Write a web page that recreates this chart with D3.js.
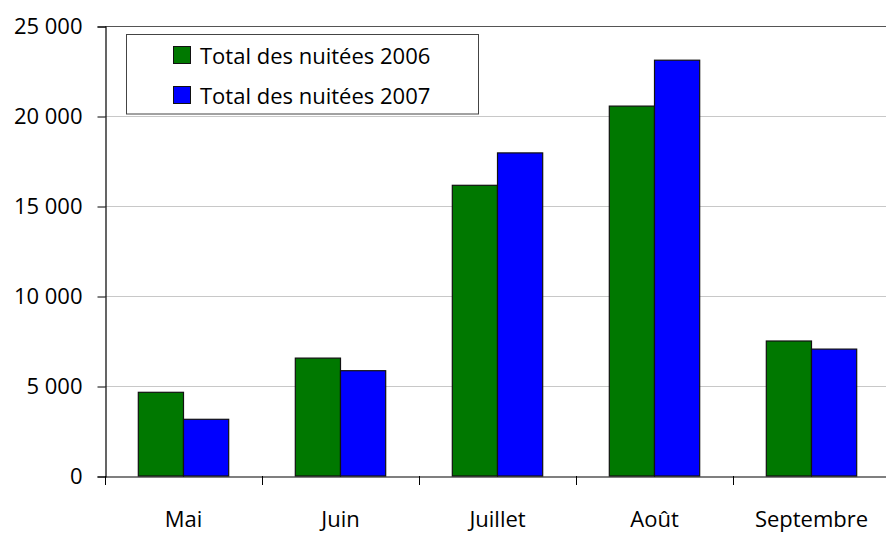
<!DOCTYPE html>
<html><head><meta charset="utf-8">
<script src="https://cdn.jsdelivr.net/npm/d3@7"></script>
<style>body{margin:0;background:#fff;} svg{display:block;font-family:"Open Sans", Lato, sans-serif;}</style>
</head><body>
<svg id="c" width="886" height="533"></svg>
<script>
const categories = ["Mai", "Juin", "Juillet", "Août", "Septembre"];
const seriesNames = ["Total des nuitées 2006", "Total des nuitées 2007"];
const values2006 = [4650, 6550, 16150, 20550, 7500];
const values2007 = [3150, 5850, 17950, 23100, 7050];
const yTicks = [0, 5000, 10000, 15000, 20000, 25000];
const colors = ["#007800", "#0000ff"];

(function () {
const svg = d3.select("#c");
const pL = 105, pR = 890, pT = 26, pB = 476;
const fs = 22;
const ff = "'Open Sans', Lato, sans-serif";

const x = d3.scaleBand().domain(categories).range([pL, pR]).padding(0);
const xs = d3.scaleBand().domain([0, 1]).range([0, x.bandwidth()]).paddingInner(0).paddingOuter(0.737);
const y = d3.scaleLinear().domain([0, 25000]).range([pB, pT]);
const fmt = d3.formatLocale({decimal: ",", thousands: " ", grouping: [3], currency: ["", ""]}).format(",");

// gridlines
svg.append("g").selectAll("line").data(yTicks.filter(d => d > 0 && d < 25000)).join("line")
  .attr("x1", pL).attr("x2", pR).attr("y1", d => y(d) + 0.5).attr("y2", d => y(d) + 0.5)
  .attr("stroke", "#c8c8c8").attr("stroke-width", 1);
// top border
svg.append("line").attr("x1", pL).attr("x2", pR).attr("y1", y(25000) + 0.5).attr("y2", y(25000) + 0.5)
  .attr("stroke", "#555").attr("stroke-width", 1);

// bars
const series = [values2006, values2007];
series.forEach((vals, si) => {
  svg.append("g").selectAll("rect").data(vals).join("rect")
    .attr("x", (d, i) => x(categories[i]) + xs(si))
    .attr("y", d => y(d))
    .attr("width", xs.bandwidth())
    .attr("height", d => y(0) - y(d))
    .attr("fill", colors[si])
    .attr("stroke", "#111").attr("stroke-width", 1.2);
});

// y axis
const yAxis = d3.axisLeft(y).tickValues(yTicks).tickFormat(d => fmt(d)).tickSize(8).tickPadding(15);
const ga = svg.append("g").attr("transform", `translate(${pL + 0.5},0.5)`).call(yAxis);
ga.attr("font-family", ff).attr("font-size", fs);
ga.select(".domain").attr("stroke", "#000").attr("stroke-width", 1.2);
ga.selectAll(".tick line").attr("stroke", "#000");
ga.selectAll(".tick text").attr("fill", "#000");

// x axis
const xAxis = d3.axisBottom(x).tickSize(0).tickPadding(35);
const gx = svg.append("g").attr("transform", `translate(0,${pB + 0.5})`).call(xAxis);
gx.attr("font-family", ff).attr("font-size", fs);
gx.select(".domain").attr("stroke", "#000").attr("stroke-width", 1.2);
gx.selectAll(".tick text").attr("fill", "#000");
// category boundary ticks
const bounds = categories.map(c => x(c)).concat([pR]);
svg.append("g").selectAll("line").data(bounds).join("line")
  .attr("x1", d => Math.round(d) + 0.5).attr("x2", d => Math.round(d) + 0.5)
  .attr("y1", pB).attr("y2", pB + 9).attr("stroke", "#000").attr("stroke-width", 1);

// legend
const lg = svg.append("g").attr("font-family", ff).attr("font-size", fs);
lg.append("rect").attr("x", 126.5).attr("y", 34.5).attr("width", 352).attr("height", 79.5)
  .attr("fill", "#fff").attr("stroke", "#444").attr("stroke-width", 1);
seriesNames.forEach((name, i) => {
  const yy = 46.5 + i * 40;
  lg.append("rect").attr("x", 173.5).attr("y", yy).attr("width", 17).attr("height", 17)
    .attr("fill", colors[i]).attr("stroke", "#111").attr("stroke-width", 1);
  lg.append("text").attr("x", 200).attr("y", yy + 17.5).attr("fill", "#000").text(name);
});
})();
</script>
</body></html>
